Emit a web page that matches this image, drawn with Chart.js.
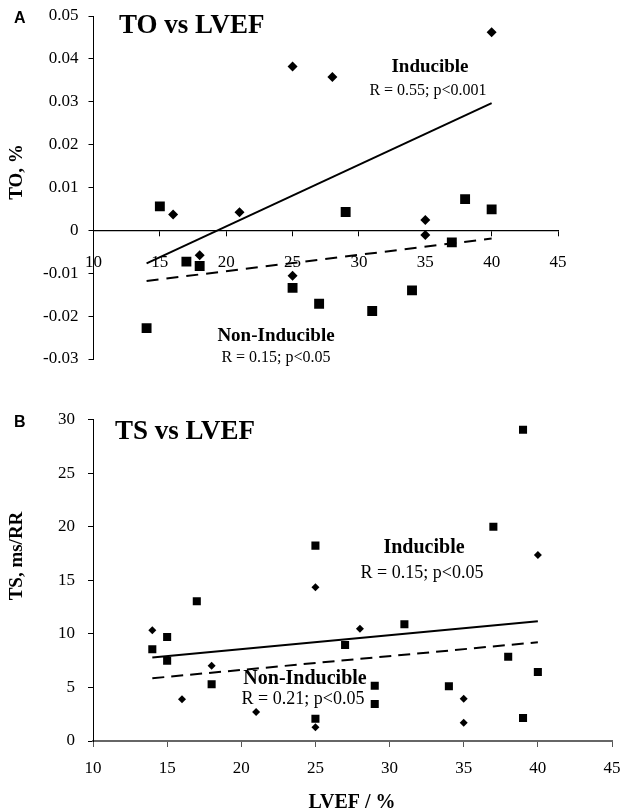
<!DOCTYPE html>
<html>
<head>
<meta charset="utf-8">
<script src="https://cdn.jsdelivr.net/npm/chart.js@4.4.1/dist/chart.umd.min.js"></script>
<style>
  html, body { margin:0; padding:0; background:#fff; }
  #wrap { position:relative; width:621px; height:812px; overflow:hidden; }
  .panel { position:absolute; left:0; width:621px; }
  #pA { top:0; height:390px; }
  #pB { top:390px; height:422px; }
</style>
</head>
<body>
<div id="wrap">
  <div class="panel" id="pA"><canvas id="chartA"></canvas></div>
  <div class="panel" id="pB"><canvas id="chartB"></canvas></div>
</div>
<script>
// ---- panel A : TO vs LVEF ----
const toIndLvef = [25, 28, 40, 16, 21, 18, 25, 35, 35];
const toIndVal  = [0.0382, 0.0358, 0.0462, 0.0037, 0.0042, -0.0058, -0.0106, 0.0024, -0.0011];
const toNonLvef = [15, 17, 18, 14, 25, 27, 29, 31, 34, 37, 38, 40];
const toNonVal  = [0.0056, -0.0073, -0.0083, -0.0228, -0.0134, -0.0171, 0.0043, -0.0188, -0.0140, -0.0028, 0.0073, 0.0049];
// regression lines (end points)
const toFitLvef = [14, 40];
const toIndFit  = [-0.0077, 0.0297];
const toNonFit  = [-0.0118, -0.0019];

// ---- panel B : TS vs LVEF ----
const tsIndLvef = [40, 25, 14, 18, 16, 21, 25, 28, 35, 35];
const tsIndVal  = [17.37, 14.35, 10.34, 7.03, 3.89, 2.71, 1.28, 10.49, 3.95, 1.71];
const tsNonLvef = [39, 37, 25, 17, 15, 14, 15, 18, 25, 27, 31, 29, 29, 34, 38, 39, 40];
const tsNonVal  = [29.07, 20.01, 18.24, 13.04, 9.71, 8.56, 7.50, 5.29, 2.08, 8.96, 10.90, 5.16, 3.45, 5.11, 7.87, 2.15, 6.44];
const tsFitLvef = [14, 40];
const tsIndFit  = [7.79, 11.17];
const tsNonFit  = [5.86, 9.22];

const SERIF = "'Liberation Serif', 'Times New Roman', serif";
const SANS = "'Liberation Sans', Arial, sans-serif";

function pts(xs, ys){ return xs.map((x,i)=>({x, y: ys[i]})); }

// texte libre dessine sur le canvas
function notesPlugin(id, items){
  return {
    id,
    afterDraw(chart){
      const ctx = chart.ctx;
      ctx.save();
      ctx.fillStyle = "#000";
      ctx.textBaseline = "middle";
      for(const n of items){
        ctx.font = n.font;
        ctx.textAlign = n.align || "center";
        ctx.save();
        ctx.translate(n.x, n.y);
        if(n.rot) ctx.rotate(n.rot);
        ctx.fillText(n.text, 0, 0);
        ctx.restore();
      }
      ctx.restore();
    }
  };
}

function pointSet(data, style, r){
  return { data, pointStyle: style, pointRadius: r, pointHoverRadius: r,
    backgroundColor: "#000", borderColor: "#000", borderWidth: 0 };
}
function fitSet(data, dash){
  return { data, showLine: true, pointRadius: 0, borderColor: "#000",
    borderWidth: 2, borderDash: dash || [], fill: false };
}

// ---------- A ----------
new Chart(document.getElementById("chartA"), {
  type: "scatter",
  data: {
    datasets: [
      fitSet(pts(toFitLvef, toIndFit)),
      fitSet(pts(toFitLvef, toNonFit), [12, 8]),
      pointSet(pts(toIndLvef, toIndVal), "rectRot", 5),
      pointSet(pts(toNonLvef, toNonVal), "rect", 7)
    ]
  },
  options: {
    responsive: true, maintainAspectRatio: false, animation: false,
    layout: { padding: { left: 0, right: 63, top: 16, bottom: 31 } },
    plugins: { legend: { display: false }, tooltip: { enabled: false } },
    scales: {
      x: {
        type: "linear", min: 10, max: 45, position: { y: 0 },
        ticks: { stepSize: 5, color: "#000", padding: 17, font: { family: SERIF, size: 17 } },
        grid: { drawOnChartArea: false, drawTicks: true, tickLength: 5, color: "#000" },
        border: { color: "#000", width: 1.3 },
        afterFit(s){ s.paddingLeft = 0; s.paddingRight = 0; }
      },
      y: {
        type: "linear", min: -0.03, max: 0.05,
        ticks: { stepSize: 0.01, color: "#000", padding: 10, font: { family: SERIF, size: 17 },
          callback: v => Math.abs(v) < 1e-9 ? "0" : v.toFixed(2) },
        grid: { drawOnChartArea: false, drawTicks: true, tickLength: 5, color: "#000" },
        border: { color: "#000", width: 1 },
        afterFit(s){ s.width = 93.5; s.paddingTop = 0; s.paddingBottom = 0; }
      }
    }
  },
  plugins: [notesPlugin("notesA", [
    { text: "A", x: 14, y: 19, font: `bold 16px ${SANS}`, align: "left" },
    { text: "TO vs LVEF", x: 119, y: 26, font: `bold 27px ${SERIF}`, align: "left" },
    { text: "Inducible", x: 430, y: 67, font: `bold 19px ${SERIF}` },
    { text: "R = 0.55; p<0.001", x: 428, y: 91, font: `16px ${SERIF}` },
    { text: "Non-Inducible", x: 276, y: 336, font: `bold 19px ${SERIF}` },
    { text: "R = 0.15; p<0.05", x: 276, y: 358, font: `16px ${SERIF}` },
    { text: "TO, %", x: 17, y: 172, font: `bold 19px ${SERIF}`, rot: -Math.PI/2 }
  ])]
});

// ---------- B ----------
new Chart(document.getElementById("chartB"), {
  type: "scatter",
  data: {
    datasets: [
      fitSet(pts(tsFitLvef, tsIndFit)),
      fitSet(pts(tsFitLvef, tsNonFit), [12, 7]),
      pointSet(pts(tsIndLvef, tsIndVal), "rectRot", 4),
      pointSet(pts(tsNonLvef, tsNonVal), "rect", 5.7)
    ]
  },
  options: {
    responsive: true, maintainAspectRatio: false, animation: false,
    layout: { padding: { left: 0, right: 9, top: 29.7, bottom: 0 } },
    plugins: { legend: { display: false }, tooltip: { enabled: false } },
    scales: {
      x: {
        type: "linear", min: 10, max: 45, position: "bottom",
        ticks: { stepSize: 5, color: "#000", padding: 11, font: { family: SERIF, size: 17 } },
        grid: { drawOnChartArea: false, drawTicks: true, tickLength: 6, color: "#555" },
        border: { color: "#666", width: 2 },
        afterFit(s){ s.height = 71; s.paddingLeft = 0; s.paddingRight = 0; }
      },
      y: {
        type: "linear", min: 0, max: 30,
        ticks: { stepSize: 5, color: "#000", padding: 13, font: { family: SERIF, size: 17 } },
        grid: { drawOnChartArea: false, drawTicks: true, tickLength: 5, color: "#000" },
        border: { color: "#000", width: 1 },
        afterFit(s){ s.width = 93; s.paddingTop = 0; s.paddingBottom = 0; }
      }
    }
  },
  plugins: [notesPlugin("notesB", [
    { text: "B", x: 14, y: 33, font: `bold 16px ${SANS}`, align: "left" },
    { text: "TS vs LVEF", x: 115, y: 42, font: `bold 27px ${SERIF}`, align: "left" },
    { text: "Inducible", x: 424, y: 158, font: `bold 20px ${SERIF}` },
    { text: "R = 0.15; p<0.05", x: 422, y: 183, font: `18px ${SERIF}` },
    { text: "Non-Inducible", x: 305, y: 289, font: `bold 20px ${SERIF}` },
    { text: "R = 0.21; p<0.05", x: 303, y: 309, font: `18px ${SERIF}` },
    { text: "TS, ms/RR", x: 17, y: 166, font: `bold 19px ${SERIF}`, rot: -Math.PI/2 },
    { text: "LVEF / %", x: 352, y: 413, font: `bold 20px ${SERIF}` }
  ])]
});
</script>
</body>
</html>
